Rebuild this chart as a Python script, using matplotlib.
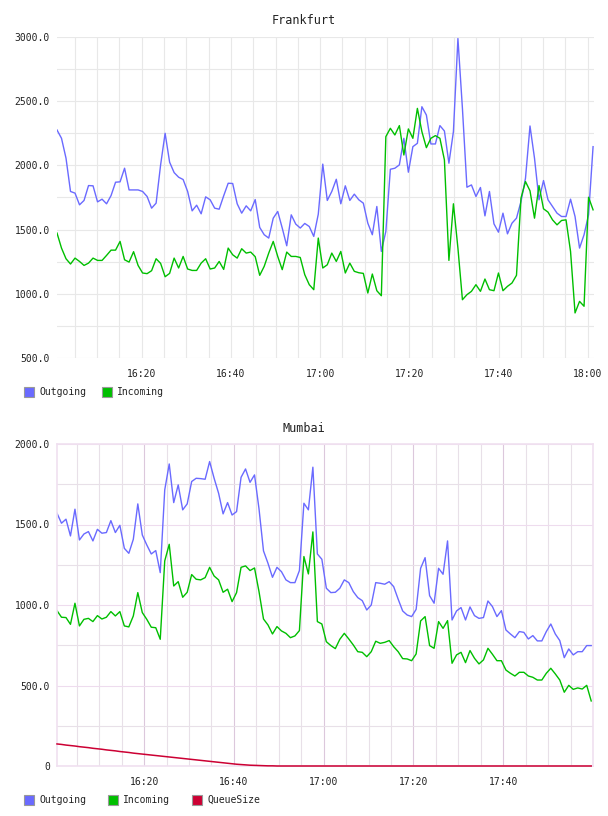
import numpy as np
import matplotlib.pyplot as plt
from matplotlib.patches import Rectangle
from matplotlib.ticker import MultipleLocator

# values, one sample per minute
frank_out = [2276, 2211, 2056, 1797, 1784, 1693, 1727, 1843, 1841, 1716,
             1737, 1701, 1765, 1869, 1872, 1978, 1809, 1809, 1809, 1797,
             1758, 1667, 1706, 2004, 2250, 2025, 1944, 1908, 1890, 1797,
             1646, 1690, 1623, 1755, 1732, 1667, 1659, 1763, 1861, 1859,
             1701, 1628, 1685, 1646, 1734, 1517, 1460, 1434, 1589, 1641,
             1512, 1374, 1615, 1543, 1512, 1548, 1524, 1447, 1620, 2010,
             1727, 1797, 1892, 1701, 1841, 1727, 1776, 1732, 1706, 1550,
             1460, 1680, 1330, 1486, 1970, 1978, 2004, 2211, 1947, 2146,
             2172, 2457, 2392, 2167, 2167, 2310, 2268, 2017, 2263, 2988,
             2444, 1830, 1848, 1758, 1828, 1607, 1797, 1545, 1480, 1628,
             1467, 1550, 1589, 1719, 1900, 2307, 2056, 1732, 1882, 1732,
             1680, 1628, 1602, 1602, 1737, 1602, 1356, 1460, 1615, 2146]
frank_in = [1473, 1356, 1273, 1232, 1278, 1252, 1221, 1239, 1278, 1260,
            1260, 1299, 1340, 1340, 1408, 1265, 1247, 1328, 1221, 1162,
            1157, 1180, 1273, 1237, 1133, 1159, 1278, 1201, 1291, 1193,
            1182, 1182, 1239, 1273, 1193, 1201, 1252, 1190, 1356, 1304,
            1278, 1351, 1317, 1325, 1289, 1144, 1214, 1317, 1408, 1291,
            1188, 1325, 1291, 1291, 1283, 1149, 1071, 1032, 1434, 1201,
            1226, 1317, 1252, 1330, 1162, 1239, 1175, 1164, 1159, 1006,
            1154, 1024, 985, 2224, 2289, 2237, 2310, 2081, 2284, 2211,
            2444, 2263, 2138, 2211, 2232, 2211, 2043, 1260, 1701, 1356,
            954, 993, 1019, 1071, 1019, 1115, 1032, 1024, 1162, 1024,
            1058, 1084, 1144, 1745, 1874, 1802, 1589, 1843, 1662, 1636,
            1576, 1537, 1571, 1576, 1330, 851, 941, 903, 1752, 1654]

mumbai_out = [1570, 1508, 1533, 1429, 1595, 1404, 1441, 1456, 1398, 1470,
              1446, 1450, 1524, 1450, 1495, 1352, 1321, 1408, 1628, 1435,
              1373, 1317, 1338, 1201, 1715, 1876, 1636, 1746, 1591, 1628,
              1767, 1787, 1785, 1781, 1891, 1787, 1694, 1566, 1636, 1559,
              1580, 1793, 1845, 1762, 1808, 1597, 1336, 1259, 1172, 1234,
              1207, 1156, 1139, 1139, 1214, 1632, 1591, 1856, 1317, 1284,
              1104, 1077, 1079, 1104, 1156, 1139, 1083, 1046, 1027, 969,
              1000, 1139, 1135, 1129, 1145, 1114, 1036, 963, 938, 928,
              973, 1228, 1294, 1058, 1011, 1228, 1191, 1398, 907, 963,
              984, 907, 988, 934, 917, 922, 1025, 990, 928, 965,
              845, 820, 797, 835, 830, 789, 810, 777, 777, 835,
              882, 820, 779, 673, 727, 690, 710, 710, 748, 748]
mumbai_in = [965, 924, 922, 880, 1011, 870, 911, 917, 897, 934,
             913, 924, 959, 932, 959, 870, 864, 932, 1077, 953,
             911, 862, 859, 787, 1274, 1377, 1118, 1145, 1048, 1079,
             1189, 1160, 1156, 1170, 1234, 1180, 1156, 1079, 1098, 1021,
             1077, 1234, 1243, 1214, 1230, 1083, 913, 876, 820, 866,
             839, 824, 797, 808, 841, 1301, 1193, 1454, 897, 882,
             772, 748, 729, 787, 824, 789, 752, 710, 706, 679,
             710, 775, 762, 768, 779, 741, 710, 667, 665, 654,
             696, 901, 928, 748, 731, 897, 855, 903, 638, 690,
             706, 642, 717, 669, 634, 659, 731, 694, 654, 654,
             596, 576, 559, 582, 582, 559, 551, 534, 534, 576,
             607, 572, 534, 458, 501, 476, 485, 478, 501, 404]
mumbai_queue = [137, 134, 130, 127, 124, 120, 117, 114, 110, 107,
                104, 100, 97, 94, 90, 87, 84, 80, 77, 74,
                71, 68, 65, 62, 59, 56, 53, 50, 47, 44,
                41, 38, 35, 32, 29, 26, 23, 20, 17, 14,
                11, 9, 7, 5, 4, 3, 2, 1, 1, 0,
                0, 0, 0, 0, 0, 0, 0, 0, 0, 0,
                0, 0, 0, 0, 0, 0, 0, 0, 0, 0,
                0, 0, 0, 0, 0, 0, 0, 0, 0, 0,
                0, 0, 0, 0, 0, 0, 0, 0, 0, 0,
                0, 0, 0, 0, 0, 0, 0, 0, 0, 0,
                0, 0, 0, 0, 0, 0, 0, 0, 0, 0,
                0, 0, 0, 0, 0, 0, 0, 0, 0, 0]

frank_yticks = [500, 1000, 1500, 2000, 2500, 3000]
frank_ylabels = ['500.0', '1000.0', '1500.0', '2000.0', '2500.0', '3000.0']
mumbai_yticks = [0, 500, 1000, 1500, 2000]
mumbai_ylabels = ['0', '500.0', '1000.0', '1500.0', '2000.0']
frank_xticks = [20, 40, 60, 80, 100, 120]      # minutes after 16:00
mumbai_xticks = [20, 40, 60, 80, 100]

C_OUT = '#6a6aff'
C_IN = '#00bf00'
C_QUEUE = '#cc0033'
FONT = 'DejaVu Sans Mono'

W, H = 608, 816
fig = plt.figure(figsize=(W / 100, H / 100), dpi=100)


def box(x0, y0, x1, y1):
    # pixel box (top-left origin) -> figure fraction rect
    return [x0 / W, 1 - y1 / H, (x1 - x0) / W, (y1 - y0) / H]


def hhmm(m):
    return '%d:%02d' % (16 + m // 60, m % 60)


def style_axes(ax, yticks, ylabels, xticks, grid_minor, grid_vmajor, grid_hmajor):
    ax.set_yticks(yticks, ylabels)
    ax.set_xticks(xticks, [hhmm(m) for m in xticks])
    ax.xaxis.set_minor_locator(MultipleLocator(5))
    ax.yaxis.set_minor_locator(MultipleLocator(250))
    ax.grid(which='minor', color=grid_minor, lw=0.8)
    ax.grid(which='major', axis='x', color=grid_vmajor, lw=0.8)
    ax.grid(which='major', axis='y', color=grid_hmajor, lw=0.8)
    ax.set_axisbelow(True)
    ax.tick_params(which='both', length=0)
    ax.tick_params(axis='y', pad=5)
    ax.tick_params(axis='x', pad=8)
    for lab in ax.get_xticklabels() + ax.get_yticklabels():
        lab.set_fontfamily(FONT)
        lab.set_fontsize(7)
        lab.set_color('#222222')


def legend(y, items):
    for x, label, col in items:
        fig.add_artist(Rectangle((x / W, 1 - (y + 5) / H), 10 / W, 10 / H,
                                 transform=fig.transFigure, facecolor=col,
                                 edgecolor='#999999', lw=0.8))
        fig.text((x + 15) / W, 1 - y / H, label, fontfamily=FONT, fontsize=7,
                 va='center', ha='left', color='#222222')


# ---- Frankfurt ----
ax1 = fig.add_axes(box(57, 37, 594, 358))
t1 = 1.0 + 1.01 * np.arange(len(frank_out))
ax1.plot(t1, frank_out, color=C_OUT, lw=1.0)
ax1.plot(t1, frank_in, color=C_IN, lw=1.0)
ax1.set_xlim(1.0, 121.4)
ax1.set_ylim(500, 3000)
style_axes(ax1, frank_yticks, frank_ylabels, frank_xticks,
           '#e8e8e8', '#e8e8e8', '#e8e8e8')
for s in ax1.spines.values():
    s.set_visible(False)
fig.text(0.5, 1 - 20 / H, 'Frankfurt', fontfamily=FONT, fontsize=8.5,
         ha='center', va='center', color='#222222')
legend(392, [(24, 'Outgoing', C_OUT), (102, 'Incoming', C_IN)])

# ---- Mumbai ----
ax2 = fig.add_axes(box(57, 444, 593, 766))
t2 = 0.6 + 1.0 * np.arange(len(mumbai_out))
ax2.plot(t2, mumbai_out, color=C_OUT, lw=1.0)
ax2.plot(t2, mumbai_in, color=C_IN, lw=1.0)
ax2.plot(t2, mumbai_queue, color=C_QUEUE, lw=1.1, zorder=5, clip_on=False)
ax2.set_xlim(0.6, 120.0)
ax2.set_ylim(0, 2000)
style_axes(ax2, mumbai_yticks, mumbai_ylabels, mumbai_xticks,
           '#e8e0e8', '#dcc8dc', '#eedcee')
for s in ax2.spines.values():
    s.set_color('#f0e0f0')
    s.set_linewidth(1.2)
fig.text(0.5, 1 - 429 / H, 'Mumbai', fontfamily=FONT, fontsize=8.5,
         ha='center', va='center', color='#222222')
legend(800, [(24, 'Outgoing', C_OUT), (108, 'Incoming', C_IN),
             (192, 'QueueSize', C_QUEUE)])

fig.savefig('out.png', dpi=100)
